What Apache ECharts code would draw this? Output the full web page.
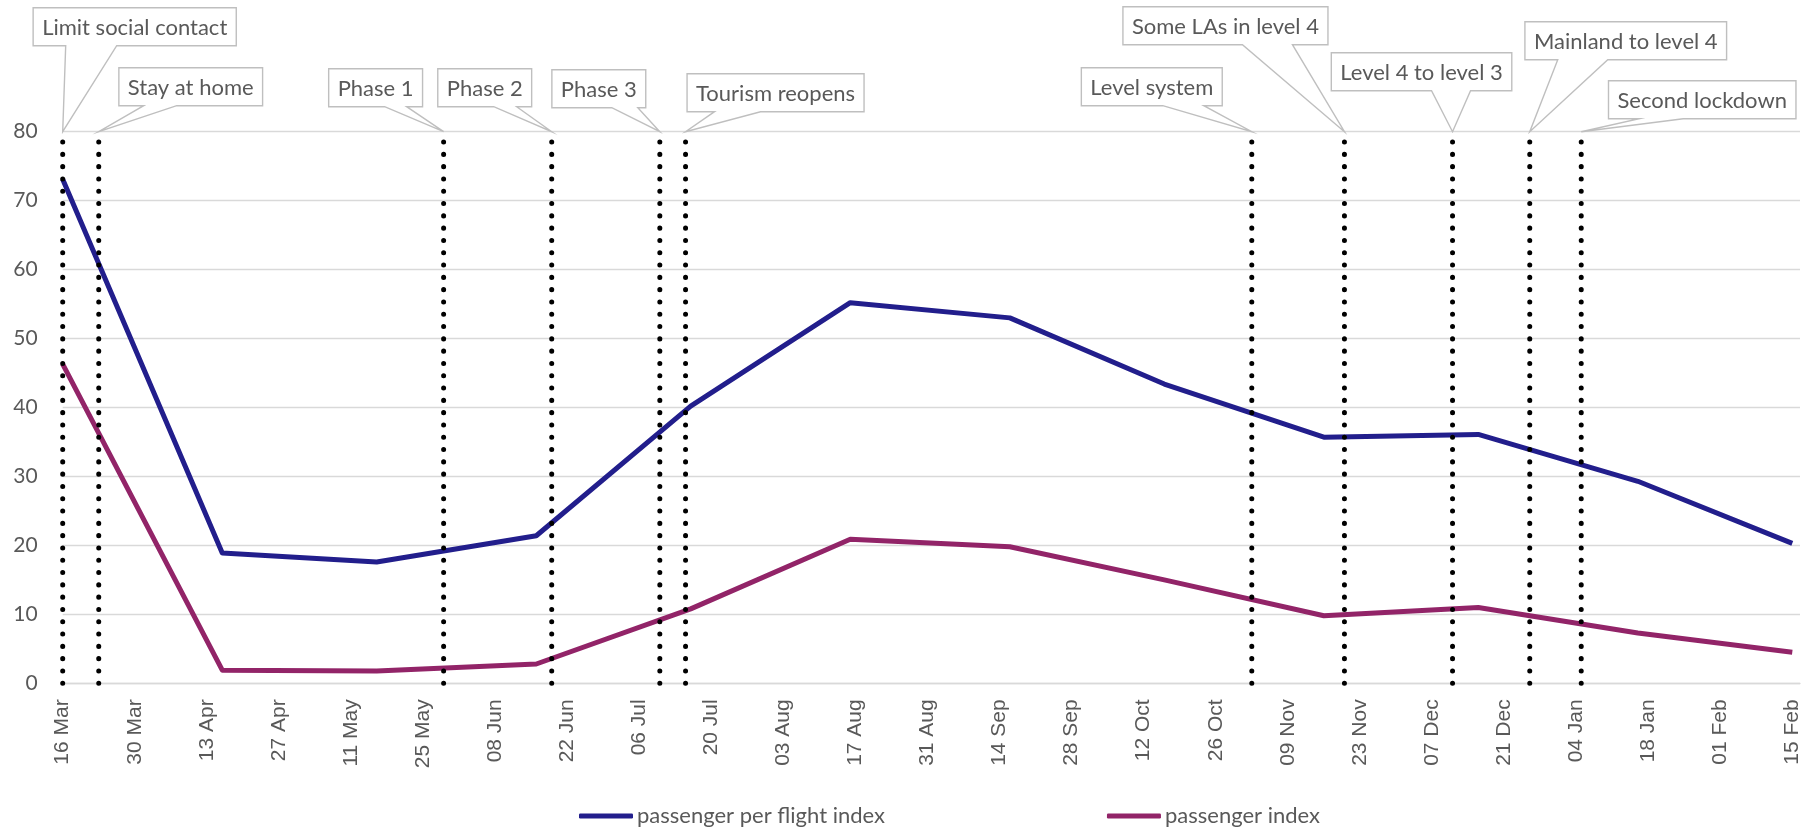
<!DOCTYPE html>
<html>
<head>
<meta charset="utf-8">
<title>Passenger indices and restriction milestones</title>
<script src="https://cdn.jsdelivr.net/npm/echarts@6/dist/echarts.min.js"></script>
<style>
  html, body { margin: 0; padding: 0; background: #ffffff; }
  #chart { width: 1807px; height: 830px; }
</style>
</head>
<body>
<div id="chart"></div>
<script>
// ---- data ----
const axisStartDate = '2020-03-16';
const axisEndDate = '2021-02-15';
const tickStepDays = 14;
const monthNames = ['Jan', 'Feb', 'Mar', 'Apr', 'May', 'Jun', 'Jul', 'Aug', 'Sep', 'Oct', 'Nov', 'Dec'];

const sampleDates = [
  '2020-03-16', '2020-04-16', '2020-05-16', '2020-06-16', '2020-07-16', '2020-08-16',
  '2020-09-16', '2020-10-16', '2020-11-16', '2020-12-16', '2021-01-16', '2021-02-15'
];
const passengerPerFlightIndex = [73.1, 18.9, 17.6, 21.4, 40.2, 55.2, 53.0, 43.4, 35.7, 36.1, 29.3, 20.3];
const passengerIndex = [46.3, 1.9, 1.8, 2.8, 10.8, 20.9, 19.8, 15.0, 9.8, 11.0, 7.3, 4.5];

const eventDates = [
  '2020-03-16', '2020-03-23', '2020-05-29', '2020-06-19', '2020-07-10', '2020-07-15',
  '2020-11-02', '2020-11-20', '2020-12-11', '2020-12-26', '2021-01-05'
];
const eventLabels = [
  'Limit social contact', 'Stay at home', 'Phase 1', 'Phase 2', 'Phase 3', 'Tourism reopens',
  'Level system', 'Some LAs in level 4', 'Level 4 to level 3', 'Mainland to level 4', 'Second lockdown'
];

const yMin = 0;
const yMax = 80;
const yStep = 10;

// ---- callout placement (pixel offsets from the pointer tip) ----
const calloutLayout = [
  { dx: 72,   bottom: -86, w1: 3,    w2: 54 },
  { dx: 92,   bottom: -26, w1: 45,   w2: 78 },
  { dx: -68,  bottom: -25, w1: -59,  w2: -37 },
  { dx: -67,  bottom: -25, w1: -58,  w2: -35 },
  { dx: -61,  bottom: -24, w1: -48,  w2: -22 },
  { dx: 90,   bottom: -20, w1: 29,   w2: 75 },
  { dx: -100, bottom: -26, w1: -89,  w2: -48 },
  { dx: -119, bottom: -87, w1: -102, w2: -52 },
  { dx: -31,  bottom: -41, w1: -21,  w2: 18 },
  { dx: 96,   bottom: -72, w1: 28,   w2: 78 },
  { dx: 121,  bottom: -13, w1: 58,   w2: 102 }
];

// ---- helpers ----
const DAY_MS = 86400000;
function toUTC(s) {
  const p = s.split('-').map(Number);
  return Date.UTC(p[0], p[1] - 1, p[2]);
}
const startMs = toUTC(axisStartDate);
function dayOffset(s) { return Math.round((toUTC(s) - startMs) / DAY_MS); }
function formatDay(n) {
  const t = new Date(startMs + n * DAY_MS);
  const d = t.getUTCDate();
  return (d < 10 ? '0' + d : '' + d) + ' ' + monthNames[t.getUTCMonth()];
}
const lastTickDay = dayOffset(axisEndDate);

const GREY_TEXT = '#595959';
const GRID_GREY = '#D9D9D9';
const CALLOUT_FONT = '22px Lato';
const CALLOUT_PAD = 9;
const CALLOUT_HEIGHT = 38;

const measureCtx = document.createElement('canvas').getContext('2d');
function textWidth(text, font) {
  measureCtx.font = font;
  return measureCtx.measureText(text).width;
}

const perFlightData = sampleDates.map((d, i) => [dayOffset(d), passengerPerFlightIndex[i]]);
const passengerData = sampleDates.map((d, i) => [dayOffset(d), passengerIndex[i]]);
const eventData = eventDates.map((d, i) => [dayOffset(d), yMax, i]);

const chart = echarts.init(document.getElementById('chart'), null, { renderer: 'canvas' });

const option = {
  backgroundColor: '#ffffff',
  animation: false,
  grid: {
    left: 62.7,
    right: 7,
    top: 131.7,
    bottom: 146.7,
    containLabel: false,
    outerBoundsMode: 'none'
  },
  legend: {
    data: ['passenger per flight index', 'passenger index'],
    left: 574,
    top: 799,
    itemGap: 222,
    itemWidth: 54,
    itemHeight: 5,
    icon: 'roundRect',
    textStyle: { fontFamily: 'Lato', fontSize: 22, lineHeight: 24, color: GREY_TEXT, padding: [0, 0, 0, -1] }
  },
  xAxis: {
    type: 'value',
    min: 0,
    max: lastTickDay + 1.5,
    interval: tickStepDays,
    axisLine: { show: true, lineStyle: { color: GRID_GREY, width: 1.3 } },
    axisTick: { show: false },
    splitLine: { show: false },
    axisLabel: {
      rotate: 90,
      margin: 16,
      showMaxLabel: false,
      fontFamily: 'Liberation Sans',
      fontSize: 21,
      color: GREY_TEXT,
      formatter: function (v) {
        if (v % tickStepDays !== 0 || v > lastTickDay) return '';
        return formatDay(v);
      }
    }
  },
  yAxis: {
    type: 'value',
    min: yMin,
    max: yMax,
    interval: yStep,
    axisLine: { show: false },
    axisTick: { show: false },
    splitLine: { show: true, lineStyle: { color: GRID_GREY, width: 1.3 } },
    axisLabel: { margin: 25, fontFamily: 'Lato', fontSize: 21, color: GREY_TEXT }
  },
  series: [
    {
      name: 'passenger per flight index',
      type: 'line',
      data: perFlightData,
      symbol: 'none',
      color: '#221E8C',
      lineStyle: { width: 5, color: '#221E8C', join: 'round' },
      z: 2
    },
    {
      name: 'passenger index',
      type: 'line',
      data: passengerData,
      symbol: 'none',
      color: '#922468',
      lineStyle: { width: 5, color: '#922468', join: 'round' },
      z: 2
    },
    {
      // dotted vertical markers at each restriction change
      name: 'event lines',
      type: 'custom',
      coordinateSystem: 'cartesian2d',
      data: eventData,
      encode: { x: 0, y: 1 },
      clip: false,
      silent: true,
      z: 5,
      renderItem: function (params, api) {
        const bottom = api.coord([api.value(0), yMin]);
        const top = api.coord([api.value(0), yMax]);
        return {
          type: 'line',
          shape: { x1: bottom[0], y1: bottom[1], x2: top[0], y2: top[1] },
          style: { stroke: '#000000', lineWidth: 5, lineDash: [0.1, 12.2], lineCap: 'round', fill: null }
        };
      }
    },
    {
      // callout boxes pointing at the top of each marker
      name: 'event callouts',
      type: 'custom',
      coordinateSystem: 'cartesian2d',
      data: eventData,
      encode: { x: 0, y: 1 },
      clip: false,
      silent: true,
      z: 6,
      renderItem: function (params, api) {
        const tip = api.coord([api.value(0), api.value(1)]);
        const idx = api.value(2);
        const lay = calloutLayout[idx];
        const label = eventLabels[idx];
        const w = textWidth(label, CALLOUT_FONT) + 2 * CALLOUT_PAD;
        const cx = tip[0] + lay.dx;
        const L = cx - w / 2;
        const R = cx + w / 2;
        const B = tip[1] + lay.bottom;
        const T = B - CALLOUT_HEIGHT;
        let a = Math.max(L + 2, Math.min(R - 2, tip[0] + Math.min(lay.w1, lay.w2)));
        let b = Math.max(L + 2, Math.min(R - 2, tip[0] + Math.max(lay.w1, lay.w2)));
        const points = [[L, T], [R, T], [R, B], [b, B], [tip[0], tip[1]], [a, B], [L, B]];
        return {
          type: 'group',
          children: [
            {
              type: 'polygon',
              shape: { points: points },
              style: { fill: '#ffffff', stroke: '#BFBFBF', lineWidth: 1.4, lineJoin: 'miter' }
            },
            {
              type: 'text',
              style: {
                text: label,
                x: cx,
                y: (T + B) / 2 + 1,
                align: 'center',
                verticalAlign: 'middle',
                textAlign: 'center',
                textVerticalAlign: 'middle',
                font: CALLOUT_FONT,
                fill: GREY_TEXT
              }
            }
          ]
        };
      }
    }
  ]
};

chart.setOption(option);
</script>
</body>
</html>
